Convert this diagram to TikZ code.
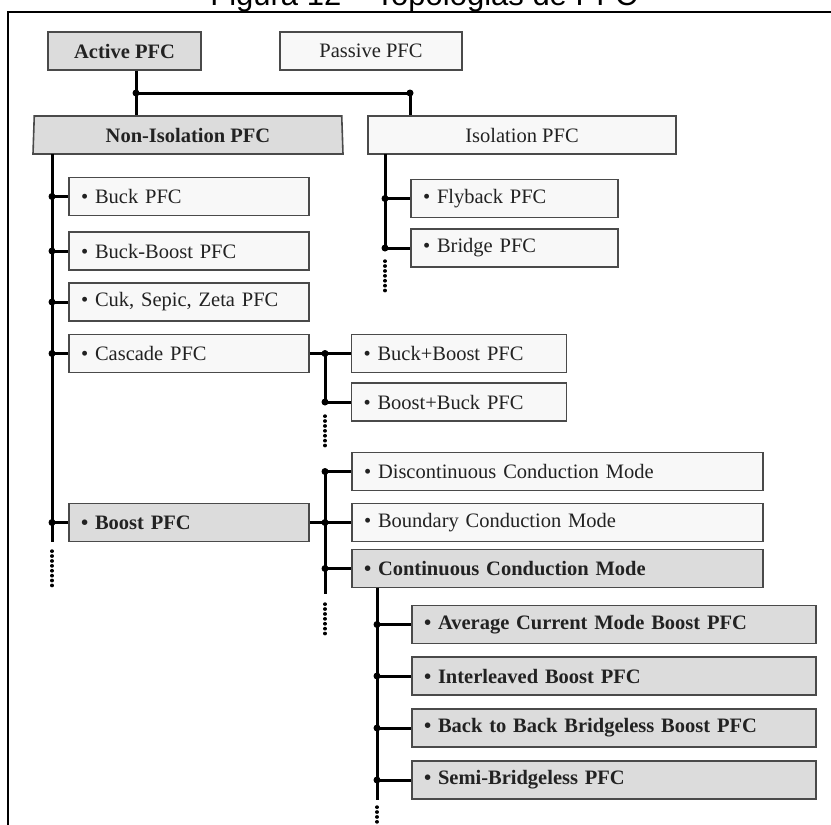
\documentclass[tikz,border=0pt]{standalone}
\usepackage{fontspec}
\setmainfont{Liberation Serif}
\newfontfamily\captionfont{Liberation Sans}
\usetikzlibrary{shapes.geometric}
\definecolor{boxgray}{HTML}{DCDCDC}
\definecolor{boxwhite}{HTML}{F8F8F8}
\definecolor{boxline}{HTML}{4A4A4A}
\definecolor{boxtext}{HTML}{222222}
\tikzset{
  box/.style={draw=boxline, line width=1.6pt, minimum height=38pt, inner xsep=12pt, inner ysep=0pt,
    text=boxtext, font=\fontsize{20.5}{22}\selectfont},
  plain/.style={box, fill=boxwhite},
  shaded/.style={box, fill=boxgray, font=\fontsize{20.5}{22}\selectfont\bfseries},
  item/.style={text width=#1, align=left},
  bus/.style={line width=3pt},
  dotsline/.style={line width=3.4pt, line cap=round, dash pattern=on 0.3pt off 4.6pt}
}
\begin{document}
\begin{tikzpicture}[x=1pt,y=-1pt]
  \useasboundingbox (0,0) rectangle (831,825);

  % frame and caption (cut at the top)
  \draw[line width=2pt] (8,830) -- (8,11.5) -- (835,11.5);
  \node[font=\captionfont\fontsize{31}{31}\selectfont, anchor=base] (cap) at (424,5) {Figura 12 – Topologias de PFC};

  \node[shaded, minimum width=153pt] (act) at (124.5,51) {Active PFC};
  \node[plain, minimum width=182pt] (pas) at (371,51) {Passive PFC};

  \node[shaded, trapezium, trapezium angle=85, trapezium stretches body, minimum width=310pt] (non) at (188,135) {Non-Isolation PFC};
  \node[plain, minimum width=308pt] (iso) at (522,135) {Isolation PFC};

  \node[plain, item=216pt] (buck) at (189,196.5) {• Buck PFC};
  \node[plain, item=216pt] (bkbst) at (189,251) {• Buck-Boost PFC};
  \node[plain, item=216pt] (cuk) at (189,302) {• Cuk, Sepic, Zeta PFC};
  \node[plain, item=216pt] (casc) at (189,353.5) {• Cascade PFC};
  \node[shaded, item=216pt] (bst) at (189,522.5) {• Boost PFC};

  \node[plain, item=183pt] (fly) at (514.5,198.5) {• Flyback PFC};
  \node[plain, item=183pt] (brg) at (514.5,248) {• Bridge PFC};

  \node[plain, item=191pt] (bpb) at (459,353.5) {• Buck+Boost PFC};
  \node[plain, item=191pt] (bpk) at (459,402) {• Boost+Buck PFC};

  \node[plain, item=387pt] (dcm) at (557.5,471.5) {• Discontinuous Conduction Mode};
  \node[plain, item=387pt] (bcm) at (557.5,522.5) {• Boundary Conduction Mode};
  \node[shaded, item=387pt] (ccm) at (557.5,568.5) {• Continuous Conduction Mode};

  \node[shaded, item=380pt] (acm) at (614,624.5) {• Average Current Mode Boost PFC};
  \node[shaded, item=380pt] (ilv) at (614,676) {• Interleaved Boost PFC};
  \node[shaded, item=380pt] (btb) at (614,728) {• Back to Back Bridgeless Boost PFC};
  \node[shaded, item=380pt] (semi) at (614,780) {• Semi-Bridgeless PFC};

  % top split
  \coordinate (split) at (136,93);
  \coordinate (fork) at (410,93);
  \draw[bus] (split |- act.south) -- (split |- non.north);
  \draw[bus] (split) -- (fork) -- (fork |- iso.north);
  \fill (split) circle (3.5pt);
  \fill (fork) circle (3.5pt);

  % non-isolation branch
  \coordinate (nb) at (52,154);
  \coordinate (nbend) at (52,542);
  \coordinate (nbdot) at (52,586);
  \draw[bus] (nb) -- (nbend);
  \draw[dotsline] (52,551) -- (nbdot);
  \draw[bus] (nb |- buck.west) -- (buck.west);
  \draw[bus] (nb |- bkbst.west) -- (bkbst.west);
  \draw[bus] (nb |- cuk.west) -- (cuk.west);
  \draw[bus] (nb |- casc.west) -- (casc.west);
  \draw[bus] (nb |- bst.west) -- (bst.west);
  \fill (nb |- buck.west) circle (3.5pt);
  \fill (nb |- bkbst.west) circle (3.5pt);
  \fill (nb |- cuk.west) circle (3.5pt);
  \fill (nb |- casc.west) circle (3.5pt);
  \fill (nb |- bst.west) circle (3.5pt);

  % isolation branch
  \coordinate (ib) at (385,154);
  \coordinate (ibend) at (385,248);
  \coordinate (ibdot) at (385,294);
  \draw[bus] (ib) -- (ibend);
  \draw[dotsline] (385,261) -- (ibdot);
  \draw[bus] (ib |- fly.west) -- (fly.west);
  \draw[bus] (ib |- brg.west) -- (brg.west);
  \fill (ib |- fly.west) circle (3.5pt);
  \fill (ib |- brg.west) circle (3.5pt);

  % cascade
  \coordinate (cb) at (325,353.5);
  \coordinate (cbdot) at (325,447);
  \draw[bus] (casc.east) -- (cb) -- (cb |- bpk.west);
  \draw[dotsline] (325,416) -- (cbdot);
  \draw[bus] (cb) -- (bpb.west);
  \draw[bus] (cb |- bpk.west) -- (bpk.west);
  \fill (cb) circle (3.5pt);
  \fill (cb |- bpk.west) circle (3.5pt);

  % boost
  \coordinate (bb) at (325,471.5);
  \coordinate (bbend) at (325,594);
  \coordinate (bbdot) at (325,638);
  \draw[bus] (bb) -- (bbend);
  \draw[dotsline] (325,604) -- (bbdot);
  \draw[bus] (bst.east) -- (bcm.west);
  \draw[bus] (bb) -- (dcm.west);
  \draw[bus] (bb |- ccm.west) -- (ccm.west);
  \fill (bb) circle (3.5pt);
  \fill (bb |- bcm.west) circle (3.5pt);
  \fill (bb |- ccm.west) circle (3.5pt);

  % continuous conduction mode
  \coordinate (kb) at (377,587.5);
  \coordinate (kbend) at (377,800);
  \coordinate (kbdot) at (377,830);
  \draw[bus] (kb) -- (kbend);
  \draw[dotsline] (377,807) -- (kbdot);
  \draw[bus] (kb |- acm.west) -- (acm.west);
  \draw[bus] (kb |- ilv.west) -- (ilv.west);
  \draw[bus] (kb |- btb.west) -- (btb.west);
  \draw[bus] (kb |- semi.west) -- (semi.west);
  \fill (kb |- acm.west) circle (3.5pt);
  \fill (kb |- ilv.west) circle (3.5pt);
  \fill (kb |- btb.west) circle (3.5pt);
  \fill (kb |- semi.west) circle (3.5pt);
\end{tikzpicture}
\end{document}
